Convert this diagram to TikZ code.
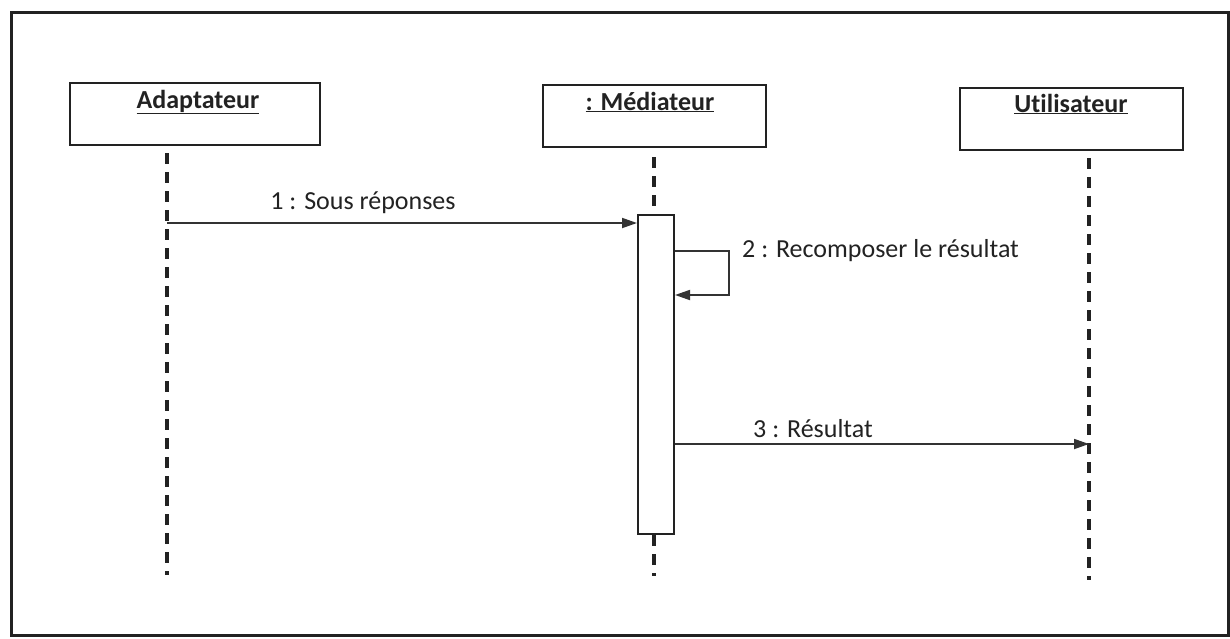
\documentclass[tikz,border=0pt]{standalone}
\usepackage{fontspec}
\setmainfont{Carlito}[Ligatures={NoCommon}]
\usetikzlibrary{arrows.meta}
\definecolor{ink}{HTML}{222222}
\definecolor{wire}{HTML}{333333}
\tikzset{
  objbox/.style={draw=ink, line width=2pt, minimum width=250pt, minimum height=62pt, inner sep=0pt},
  objname/.style={anchor=base, font=\fontsize{26}{30}\selectfont\bfseries, text=ink, inner sep=0pt},
  lifeline/.style={draw=ink, line width=3.6pt, dash pattern=on 11pt off 8pt},
  actbox/.style={draw=ink, fill=white, line width=2pt, minimum width=36pt, minimum height=319pt, inner sep=0pt},
  msg/.style={draw=wire, line width=1.8pt, -{Triangle[length=15pt,width=10pt]}},
  msglabel/.style={font=\fontsize{26}{30}\selectfont, text=ink, inner sep=0pt},
}
\begin{document}
\begin{tikzpicture}[x=1pt,y=-1pt]
\useasboundingbox (0,0) rectangle (1230,638);
\draw[line width=3pt, ink] (11,12) rectangle (1228,635);
% objects
\node[objbox] (ada) at (195,114) {};
\node[objbox, minimum width=223pt] (med) at (654.5,116) {};
\node[objbox, minimum width=223pt] (uti) at (1071.5,118.5) {};
\node[objname] (adat) at (198,108) {\underline{Adaptateur}};
\node[objname] (medt) at (650,110) {\underline{: Médiateur}};
\node[objname] (utit) at (1071,112) {\underline{Utilisateur}};
% activation
\node[actbox] (act) at (656,374.5) {};
% lifeline coordinates
\coordinate (adaTop) at (167,153);
\coordinate (adaBot) at (167,575);
\coordinate (adaM1) at (167,223);
\coordinate (medTop) at (654,157);
\coordinate (medBot) at (654,576);
\coordinate (utiTop) at (1089,158);
\coordinate (utiBot) at (1089,580);
\coordinate (utiM3) at (1089,444);
\coordinate (selfA) at (729,251);
\coordinate (selfB) at (729,295);
% lifelines
\draw[lifeline] (adaTop) -- (adaBot);
\draw[lifeline] (medTop) -- (act.north -| medTop);
\draw[lifeline] (act.south -| medTop) -- (medBot);
\draw[lifeline] (utiTop) -- (utiBot);
% messages
\draw[msg] (adaM1) -- (act.west |- adaM1);
\draw[msg] (act.east |- selfA) -- (selfA) -- (selfB) -- (act.east |- selfB);
\draw[msg] (act.east |- utiM3) -- (utiM3);
% labels
\node[msglabel, anchor=base] (l1) at (363,209) {1 : Sous réponses};
\node[msglabel, anchor=base west] (l2) at (742,257) {2 : Recomposer le résultat};
\node[msglabel, anchor=base] (l3) at (813,437) {3 : Résultat};
\end{tikzpicture}
\end{document}
